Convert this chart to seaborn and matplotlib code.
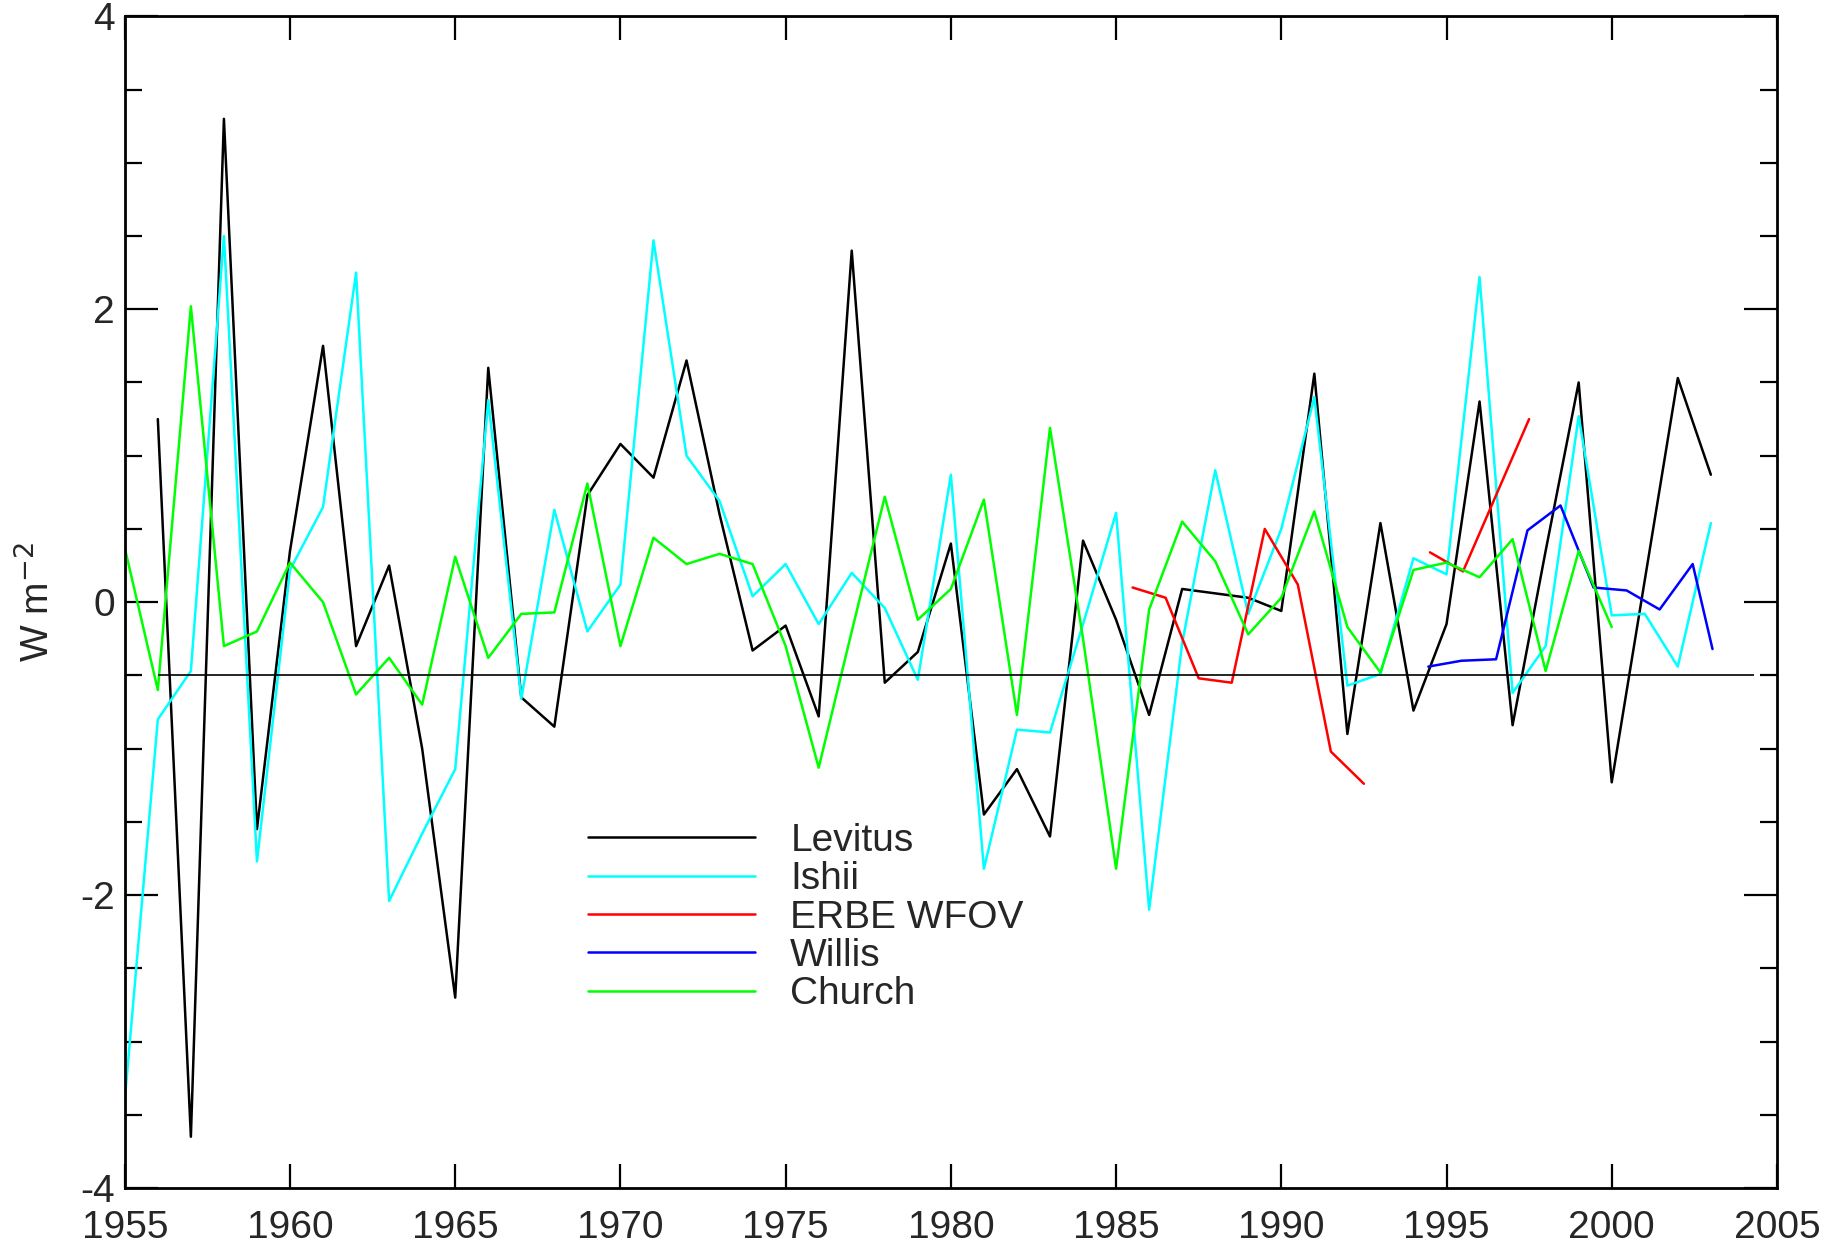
import numpy as np
import pandas as pd
import matplotlib
matplotlib.use("Agg")
import matplotlib.pyplot as plt
import seaborn as sns
from matplotlib.ticker import MultipleLocator

# --- data (W m-2) ---
levitus_years = list(range(1956, 2004))
levitus = [1.25, -3.65, 3.3, -1.55, 0.35, 1.75, -0.3, 0.25, -1.0, -2.7,
           1.6, -0.65, -0.85, 0.73, 1.08, 0.85, 1.65, 0.6, -0.33, -0.16,
           -0.78, 2.4, -0.55, -0.34, 0.4, -1.45, -1.14, -1.6, 0.42, -0.12,
           -0.77, 0.09, 0.06, 0.03, -0.06, 1.56, -0.9, 0.54, -0.74, -0.15,
           1.37, -0.84, 0.35, 1.5, -1.23, 0.15, 1.53, 0.87]

ishii_years = list(range(1955, 2004))
ishii = [-3.4, -0.8, -0.47, 2.5, -1.77, 0.22, 0.65, 2.25, -2.04, -1.58,
         -1.14, 1.38, -0.66, 0.63, -0.2, 0.12, 2.47, 1.0, 0.69, 0.04,
         0.26, -0.15, 0.2, -0.04, -0.53, 0.87, -1.82, -0.87, -0.89, -0.15,
         0.61, -2.1, -0.28, 0.9, -0.08, 0.5, 1.4, -0.57, -0.49, 0.3,
         0.19, 2.22, -0.62, -0.3, 1.27, -0.09, -0.08, -0.44, 0.54]

erbe_years_a = [1985.5, 1986.5, 1987.5, 1988.5, 1989.5, 1990.5, 1991.5, 1992.5]
erbe_a = [0.1, 0.03, -0.52, -0.55, 0.5, 0.12, -1.02, -1.24]
erbe_years_b = [1994.5, 1995.5, 1996.5, 1997.5]
erbe_b = [0.34, 0.21, 0.73, 1.25]

willis_years = [1994.45, 1995.45, 1996.5, 1997.45, 1998.45, 1999.45,
                2000.45, 2001.45, 2002.45, 2003.05]
willis = [-0.44, -0.4, -0.39, 0.49, 0.66, 0.1, 0.08, -0.05, 0.26, -0.32]

church_years = list(range(1955, 2001))
church = [0.37, -0.6, 2.02, -0.3, -0.2, 0.27, 0.0, -0.63, -0.38, -0.7,
          0.31, -0.38, -0.08, -0.07, 0.81, -0.3, 0.44, 0.26, 0.33, 0.26,
          -0.3, -1.13, -0.2, 0.72, -0.12, 0.09, 0.7, -0.77, 1.19, -0.25,
          -1.82, -0.05, 0.55, 0.28, -0.22, 0.03, 0.62, -0.17, -0.48, 0.22,
          0.27, 0.17, 0.43, -0.47, 0.35, -0.17]

ref_level = -0.5
ref_span = [1956, 2004.3]

colors = {"Levitus": "#000000", "Ishii": "#00ffff", "ERBE WFOV": "#ff0000",
          "Willis": "#0000ff", "Church": "#00ff00"}

sns.set_style("ticks")
plt.rcParams['font.family'] = ['Liberation Sans', 'DejaVu Sans']
plt.rcParams['axes.unicode_minus'] = False

fig = plt.figure(figsize=(18.27, 12.44), dpi=100)
ax = fig.add_axes([0.0683, 0.0450, 0.9043, 0.9419])

lw = 1.8
sns.lineplot(x=levitus_years, y=levitus, color=colors["Levitus"], lw=lw,
             label="Levitus", ax=ax, sort=False, estimator=None)
sns.lineplot(x=ishii_years, y=ishii, color=colors["Ishii"], lw=lw,
             label="Ishii", ax=ax, sort=False, estimator=None)
sns.lineplot(x=erbe_years_a, y=erbe_a, color=colors["ERBE WFOV"], lw=lw,
             label="ERBE WFOV", ax=ax, sort=False, estimator=None)
sns.lineplot(x=erbe_years_b, y=erbe_b, color=colors["ERBE WFOV"], lw=lw,
             legend=False, ax=ax, sort=False, estimator=None)
sns.lineplot(x=willis_years, y=willis, color=colors["Willis"], lw=lw,
             label="Willis", ax=ax, sort=False, estimator=None)
sns.lineplot(x=church_years, y=church, color=colors["Church"], lw=lw,
             label="Church", ax=ax, sort=False, estimator=None)

ax.hlines(ref_level, ref_span[0], ref_span[1], color="black", lw=1.2)

ax.set_xlim(1955, 2005)
ax.set_ylim(-4, 4)
ax.xaxis.set_major_locator(MultipleLocator(5))
ax.yaxis.set_major_locator(MultipleLocator(2))
ax.yaxis.set_minor_locator(MultipleLocator(0.5))

ax.tick_params(axis="both", which="both", direction="in", top=True, right=True,
               color="black", labelsize=28)
ax.tick_params(axis="x", which="major", length=17, width=1.6, pad=16)
ax.tick_params(axis="y", which="major", length=24, width=1.6, pad=7)
ax.tick_params(axis="y", which="minor", length=12, width=1.6)
for sp in ax.spines.values():
    sp.set_color("black")
    sp.set_linewidth(2.0)
    sp.set_visible(True)

ax.set_xlabel("")
ax.set_ylabel("W m$^{-2}$", fontsize=28)
ax.yaxis.set_label_coords(-0.041, 0.5)

ax.legend(loc="upper left", bbox_to_anchor=(0.2804, 0.3116), frameon=False,
          borderaxespad=0, borderpad=0, handlelength=4.3, handletextpad=0.9,
          labelspacing=0.06, fontsize=28)

fig.savefig("out.png", dpi=100, facecolor="white")
